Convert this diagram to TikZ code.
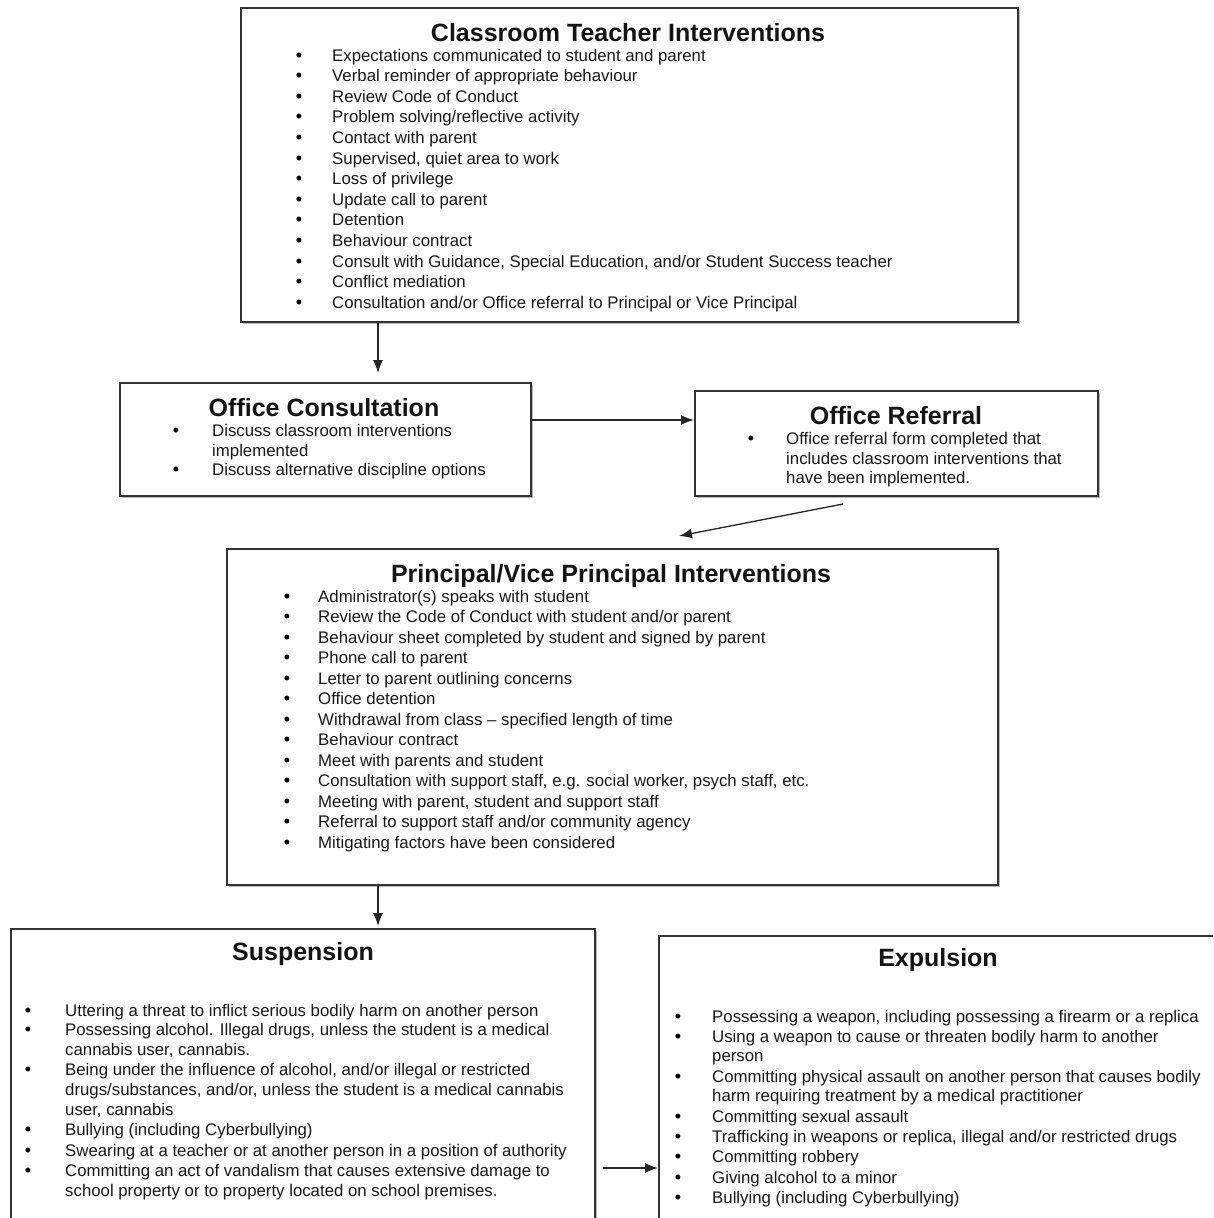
\documentclass[tikz,border=0pt]{standalone}
\usepackage{fontspec}
\setmainfont{Liberation Sans}
\usetikzlibrary{arrows.meta,shadows}
\begin{document}
\begin{tikzpicture}[x=1pt,y=-1pt,
  box/.style={draw=black!80,line width=1.8pt,fill=white,inner sep=0pt,anchor=north west,
    drop shadow={shadow xshift=1.6pt,shadow yshift=-1.6pt,fill=black!45,opacity=0.6}},
  txt/.style={anchor=base west,inner sep=0pt,font=\fontsize{16.8}{20}\selectfont,text=black!90},
  bul/.style={anchor=base,inner sep=0pt,font=\fontsize{18}{20}\selectfont,text=black},
  ttl/.style={anchor=base,inner sep=0pt,font=\fontsize{25}{28}\selectfont\bfseries,text=black!92},
  arr/.style={draw=black!85,line width=1.3pt,-{Latex[length=13pt,width=10pt]}}]
\newcommand\BItem[5]{\node[bul] (#1b) at (#2,#4) {•};\node[txt] (#1) at (#3,#4) {#5};}
\newcommand\CItem[4]{\node[txt] (#1) at (#2,#3) {#4};}
\useasboundingbox (0,0) rectangle (1213,1218);
\clip (0,0) rectangle (1213,1218);
\fill[white] (0,0) rectangle (1213,1218);

% boxes
\node[box,minimum width=777pt,minimum height=314pt] (ct) at (240,7) {};
\node[box,minimum width=411pt,minimum height=113pt] (oc) at (119,382) {};
\node[box,minimum width=403pt,minimum height=105pt] (or) at (694,390) {};
\node[box,minimum width=771pt,minimum height=336pt] (pv) at (226,548) {};
\node[box,minimum width=584pt,minimum height=320pt] (su) at (10,928) {};
\node[box,minimum width=580pt,minimum height=320pt] (ex) at (658,935) {};

% Classroom teacher
\node[ttl] (ctt) at (628,41) {Classroom Teacher Interventions};
\foreach \t [count=\i from 0] in {
  Expectations communicated to student and parent,
  Verbal reminder of appropriate behaviour,
  Review Code of Conduct,
  Problem solving/reflective activity,
  Contact with parent,
  {Supervised, quiet area to work},
  Loss of privilege,
  Update call to parent,
  Detention,
  Behaviour contract,
  {Consult with Guidance, Special Education, and/or Student Success teacher},
  Conflict mediation,
  Consultation and/or Office referral to Principal or Vice Principal}
  {\BItem{ct\i}{299}{332}{61+20.6*\i}{\t}}

% Office consultation
\node[ttl] (oct) at (324,416) {Office Consultation};
\BItem{oc1}{176}{212}{436}{Discuss classroom interventions}
\CItem{oc2}{212}{456}{implemented}
\BItem{oc3}{176}{212}{475}{Discuss alternative discipline options}

% Office referral
\node[ttl] (ort) at (896,424) {Office Referral};
\BItem{or1}{751}{786}{444}{Office referral form completed that}
\CItem{or2}{786}{464}{includes classroom interventions that}
\CItem{or3}{786}{483}{have been implemented.}

% Principal
\node[ttl] (pvt) at (611,582) {Principal/Vice Principal Interventions};
\foreach \t [count=\i from 0] in {
  Administrator(s) speaks with student,
  Review the Code of Conduct with student and/or parent,
  Behaviour sheet completed by student and signed by parent,
  Phone call to parent,
  Letter to parent outlining concerns,
  Office detention,
  Withdrawal from class – specified length of time,
  Behaviour contract,
  Meet with parents and student,
  {Consultation with support staff, e.g. social worker, psych staff, etc.},
  {Meeting with parent, student and support staff},
  Referral to support staff and/or community agency,
  Mitigating factors have been considered}
  {\BItem{pv\i}{287}{318}{602+20.5*\i}{\t}}

% Suspension
\node[ttl] (sut) at (303,960) {Suspension};
\BItem{su1}{28}{65}{1016}{Uttering a threat to inflict serious bodily harm on another person}
\BItem{su2}{28}{65}{1035}{Possessing alcohol. Illegal drugs, unless the student is a medical}
\CItem{su3}{65}{1055}{cannabis user, cannabis.}
\BItem{su4}{28}{65}{1075}{Being under the influence of alcohol, and/or illegal or restricted}
\CItem{su5}{65}{1095}{drugs/substances, and/or, unless the student is a medical cannabis}
\CItem{su6}{65}{1115}{user, cannabis}
\BItem{su7}{28}{65}{1135}{Bullying (including Cyberbullying)}
\BItem{su8}{28}{65}{1156}{Swearing at a teacher or at another person in a position of authority}
\BItem{su9}{28}{65}{1176}{Committing an act of vandalism that causes extensive damage to}
\CItem{su10}{65}{1196}{school property or to property located on school premises.}

% Expulsion
\node[ttl] (ext) at (938,966) {Expulsion};
\BItem{ex1}{678}{712}{1022}{Possessing a weapon, including possessing a firearm or a replica}
\BItem{ex2}{678}{712}{1042}{Using a weapon to cause or threaten bodily harm to another}
\CItem{ex3}{712}{1061}{person}
\BItem{ex4}{678}{712}{1082}{Committing physical assault on another person that causes bodily}
\CItem{ex5}{712}{1101}{harm requiring treatment by a medical practitioner}
\BItem{ex6}{678}{712}{1122}{Committing sexual assault}
\BItem{ex7}{678}{712}{1142}{Trafficking in weapons or replica, illegal and/or restricted drugs}
\BItem{ex8}{678}{712}{1162}{Committing robbery}
\BItem{ex9}{678}{712}{1183}{Giving alcohol to a minor}
\BItem{ex10}{678}{712}{1203}{Bullying (including Cyberbullying)}

% connectors
\coordinate (a1) at (378,373);
\draw[arr] (a1 |- ct.south) -- (a1);
\coordinate (a2) at (600,420);
\draw[arr] (a2 -| oc.east) -- (a2 -| or.west);
\coordinate (a3s) at (843,504);
\coordinate (a3e) at (679,536);
\draw[arr] (a3s) -- (a3e);
\coordinate (a4) at (378,926);
\draw[arr] (a4 |- pv.south) -- (a4);
\coordinate (a5) at (603,1168);
\draw[arr] (a5) -- (a5 -| ex.west);
\end{tikzpicture}
\end{document}
